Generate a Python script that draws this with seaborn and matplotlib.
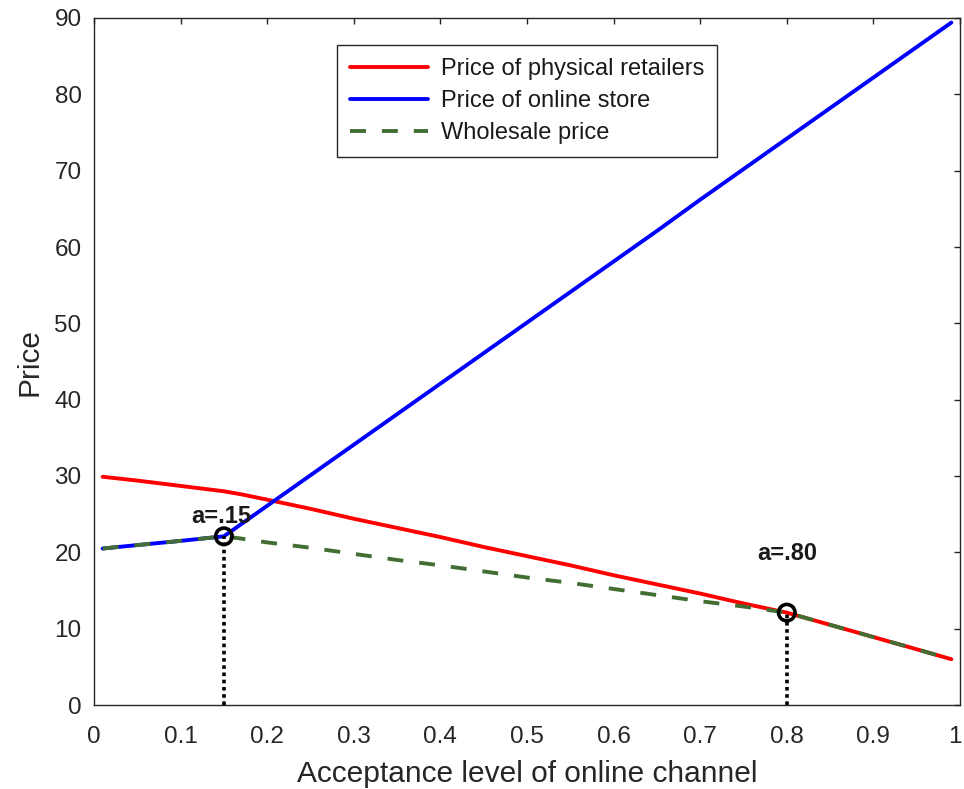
import matplotlib
matplotlib.use("Agg")
import matplotlib.pyplot as plt
import matplotlib.transforms as mtransforms
import seaborn as sns
import pandas as pd

# ---- data ----
acceptance = [0.01, 0.05, 0.10, 0.15, 0.17, 0.20, 0.25, 0.30, 0.35, 0.40, 0.45,
              0.50, 0.55, 0.60, 0.65, 0.70, 0.75, 0.80, 0.85, 0.90, 0.95, 0.99]
physical_price = [29.9, 29.4, 28.7, 28.0, 27.6, 26.9, 25.7, 24.4, 23.2, 22.0, 20.7,
                  19.5, 18.3, 17.0, 15.8, 14.6, 13.3, 12.1, 10.5, 8.9, 7.3, 6.0]
online_price = [20.5, 20.95, 21.5, 22.1, 23.7, 26.1, 30.1, 34.1, 38.1, 42.1, 46.1,
                50.1, 54.1, 58.1, 62.1, 66.2, 70.2, 74.2, 78.2, 82.2, 86.2, 89.4]
wholesale_price = [20.5, 20.95, 21.5, 22.1, 21.8, 21.3, 20.6, 19.8, 19.0, 18.3, 17.5,
                   16.7, 16.0, 15.2, 14.4, 13.6, 12.9, 12.1, 10.5, 8.9, 7.3, 6.0]
threshold_x = [0.15, 0.80]
threshold_y = [22.1, 12.1]
threshold_labels = ["a=.15", "a=.80"]
series_names = ["Price of physical retailers", "Price of online store", "Wholesale price"]
x_ticks = [0, 0.1, 0.2, 0.3, 0.4, 0.5, 0.6, 0.7, 0.8, 0.9, 1]
x_tick_labels = ["0", "0.1", "0.2", "0.3", "0.4", "0.5", "0.6", "0.7", "0.8", "0.9", "1"]
y_ticks = [0, 10, 20, 30, 40, 50, 60, 70, 80, 90]

df = pd.DataFrame({"a": acceptance, "phys": physical_price,
                   "online": online_price, "whole": wholesale_price})

sns.set_theme(style="white")
plt.rcParams["font.family"] = ["Liberation Sans", "DejaVu Sans"]

fig = plt.figure(figsize=(9.64, 7.89), dpi=100)
ax = fig.add_axes([94 / 964, 84 / 789, 866 / 964, 687 / 789])

lw = 2.8
sns.lineplot(data=df, x="a", y="phys", color="#ff0000", linewidth=lw,
             label=series_names[0], ax=ax, zorder=2)
sns.lineplot(data=df, x="a", y="online", color="#0000ff", linewidth=lw,
             label=series_names[1], ax=ax, zorder=2)
sns.lineplot(data=df, x="a", y="whole", color="#426e34", linewidth=lw,
             linestyle=(0, (4.1, 4.1)), label=series_names[2], ax=ax, zorder=3)

# dotted drop lines and markers
for xv, yv in zip(threshold_x, threshold_y):
    ax.plot([xv, xv], [0, yv], color="black", linestyle=(0, (1.0, 1.0)),
            linewidth=2.6, zorder=4)
sns.scatterplot(x=threshold_x, y=threshold_y, marker="o", s=140,
                facecolors="none", edgecolor="black", linewidth=2.6,
                ax=ax, zorder=5, legend=False)

label_offsets = [(-0.003, 2.6), (0.0, 7.8)]
for (xv, yv), lab, (dx, dy) in zip(zip(threshold_x, threshold_y), threshold_labels, label_offsets):
    ax.text(xv + dx, yv + dy, lab, fontsize=17, fontweight="bold",
            ha="center", va="center", color="#1a1a1a")

ax.set_xlim(0, 1)
ax.set_ylim(0, 90)
ax.set_xticks(x_ticks)
ax.set_xticklabels(x_tick_labels)
ax.set_yticks(y_ticks)
ax.tick_params(direction="in", length=4.5, width=1, colors="#262626",
               labelsize=17.5, top=True, right=True)
ax.tick_params(axis="x", pad=15)
ax.tick_params(axis="y", pad=9)
for sp in ax.spines.values():
    sp.set_color("#262626")
    sp.set_linewidth(1.0)
    sp.set_visible(True)

# keep the last x tick label inside the canvas
last_lab = ax.get_xticklabels()[-1]
last_lab.set_transform(last_lab.get_transform() +
                       mtransforms.ScaledTranslation(-5 / 100, 0, fig.dpi_scale_trans))

ax.set_xlabel("Acceptance level of online channel", fontsize=21.5, color="#262626", labelpad=9)
ax.set_ylabel("Price", fontsize=21.5, color="#262626", labelpad=7.5)

leg = ax.legend(loc="upper left", bbox_to_anchor=(0.2805, 0.961), fontsize=17,
                frameon=True, fancybox=False, framealpha=1, edgecolor="#262626",
                handlelength=3.3, labelspacing=0.43, borderpad=0.55,
                handletextpad=0.55, borderaxespad=0)
leg.get_frame().set_linewidth(1.0)
for t in leg.get_texts():
    t.set_color("#1a1a1a")

fig.savefig("out.png", dpi=100)
